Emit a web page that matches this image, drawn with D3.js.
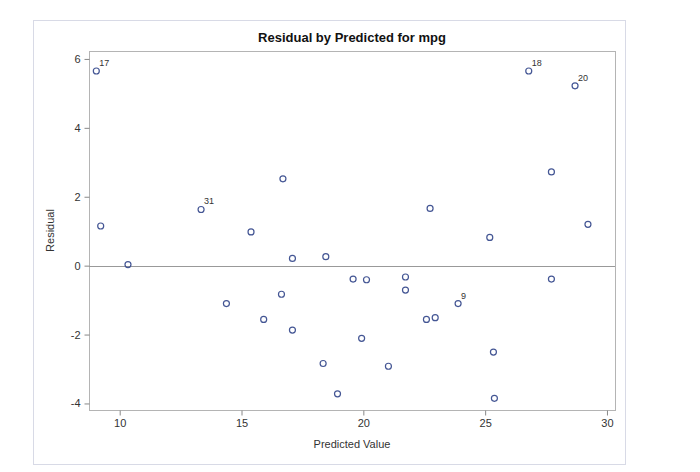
<!DOCTYPE html>
<html>
<head>
    <meta charset="utf-8">
    <title>Residual by Predicted for mpg</title>
    <script src="https://d3js.org/d3.v7.min.js"></script>
    <style>
        body { margin: 0; background: #fff; font-family: "Liberation Sans", Arial, sans-serif; }
        .tick text { font-size: 11px; fill: #333; }
        .tick line { stroke: #888; }
        .domain { display: none; }
    </style>
</head>
<body>
<div id="chart"></div>
<script>
    // Predicted values and residuals
    const predicted = [9.04, 9.22, 10.34, 13.34, 16.70, 15.39, 17.09, 18.46, 14.38, 16.64,
                       15.91, 22.74, 25.19, 29.22, 27.72, 27.72, 19.58, 20.13, 21.73, 21.73,
                       23.89, 22.59, 22.95, 17.09, 18.35, 19.93, 21.03, 18.94, 25.34, 25.38,
                       26.79, 28.69];
    const residual = [5.65, 1.15, 0.03, 1.63, 2.52, 0.98, 0.21, 0.26, -1.10, -0.83,
                      -1.56, 1.66, 0.82, 1.20, -0.39, 2.72, -0.39, -0.41, -0.33, -0.71,
                      -1.10, -1.56, -1.51, -1.87, -2.84, -2.11, -2.92, -3.72, -2.51, -3.85,
                      5.65, 5.22];
    const obsLabel = ['17', '', '', '31', '', '', '', '', '', '',
                      '', '', '', '', '', '', '', '', '', '',
                      '9', '', '', '', '', '', '', '', '', '',
                      '18', '20'];
    const xTicks = [10, 15, 20, 25, 30];
    const yTicks = [-4, -2, 0, 2, 4, 6];

    const width = 700, height = 472;
    const margin = { left: 89, right: 85, top: 51, bottom: 62 };

    const svg = d3.select('#chart').append('svg')
        .attr('width', width)
        .attr('height', height);

    // outer border
    svg.append('rect')
        .attr('x', 33.5).attr('y', 20.5)
        .attr('width', 592).attr('height', 444)
        .attr('fill', 'none')
        .attr('stroke', '#d8dae6');

    const x = d3.scaleLinear().domain([8.74, 30.33]).range([margin.left, width - margin.right]);
    const y = d3.scaleLinear().domain([-4.19, 6.23]).range([height - margin.bottom, margin.top]);

    // plot frame
    svg.append('rect')
        .attr('x', x.range()[0] + 0.5).attr('y', y.range()[1] + 0.5)
        .attr('width', x.range()[1] - x.range()[0]).attr('height', y.range()[0] - y.range()[1])
        .attr('fill', 'none')
        .attr('stroke', '#b4b4b4');

    svg.append('g')
        .attr('transform', `translate(0,${y.range()[0] + 0.5})`)
        .call(d3.axisBottom(x).tickValues(xTicks).tickSize(5).tickPadding(4).tickFormat(d => String(d)));

    svg.append('g')
        .attr('transform', `translate(${x.range()[0] + 0.5},0)`)
        .call(d3.axisLeft(y).tickValues(yTicks).tickSize(5).tickPadding(4).tickFormat(d => String(d)));

    // reference line at zero
    svg.append('line')
        .attr('x1', x.range()[0]).attr('x2', x.range()[1])
        .attr('y1', Math.round(y(0)) + 0.5).attr('y2', Math.round(y(0)) + 0.5)
        .attr('stroke', '#999');

    const pts = predicted.map((p, i) => ({ p, r: residual[i], lab: obsLabel[i] }));

    svg.append('g').selectAll('circle')
        .data(pts)
        .enter().append('circle')
        .attr('cx', d => x(d.p))
        .attr('cy', d => y(d.r))
        .attr('r', 3)
        .attr('fill', 'none')
        .attr('stroke', '#445694')
        .attr('stroke-width', 1.2);

    svg.append('g').selectAll('text')
        .data(pts.filter(d => d.lab))
        .enter().append('text')
        .attr('x', d => x(d.p) + 3)
        .attr('y', d => y(d.r) - 5)
        .attr('font-size', 9)
        .attr('fill', '#333')
        .text(d => d.lab);

    // title and axis labels
    svg.append('text')
        .attr('x', (x.range()[0] + x.range()[1]) / 2)
        .attr('y', 42)
        .attr('text-anchor', 'middle')
        .attr('font-size', 13)
        .attr('font-weight', 'bold')
        .attr('fill', '#111')
        .text('Residual by Predicted for mpg');

    svg.append('text')
        .attr('x', (x.range()[0] + x.range()[1]) / 2)
        .attr('y', 448)
        .attr('text-anchor', 'middle')
        .attr('font-size', 11)
        .attr('fill', '#333')
        .text('Predicted Value');

    svg.append('text')
        .attr('transform', `translate(54,${(y.range()[0] + y.range()[1]) / 2}) rotate(-90)`)
        .attr('text-anchor', 'middle')
        .attr('font-size', 11)
        .attr('fill', '#333')
        .text('Residual');
</script>
</body>
</html>
